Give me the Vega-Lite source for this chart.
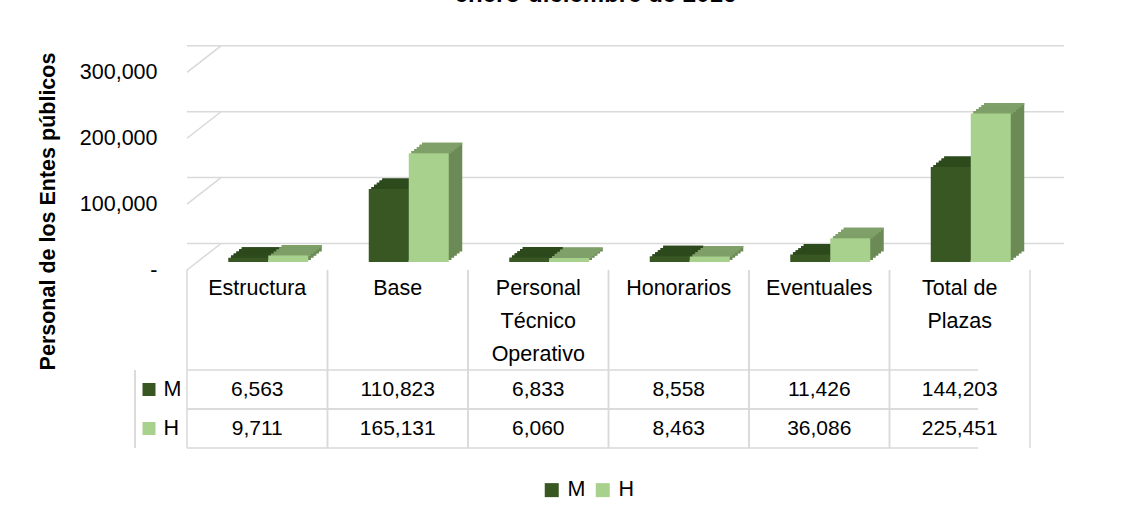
{
  "$schema": "https://vega.github.io/schema/vega-lite/v6.json",
  "padding": {"left": 37, "top": -17, "right": 10, "bottom": 0},
  "background": "white",
  "bounds": "flush",
  "spacing": 0,
  "title": {"text": "enero-diciembre de 2016", "fontSize": 24, "font": "Liberation Sans", "fontWeight": "bold", "anchor": "middle", "frame": "group", "baseline": "alphabetic", "offset": 19, "dx": -13, "color": "#000000"},
  "datasets": {
    "bars": [
      {"cat": "Estructura", "serie": "M", "valor": 6563},
      {"cat": "Base", "serie": "M", "valor": 110823},
      {"cat": "Personal Técnico Operativo", "serie": "M", "valor": 6833},
      {"cat": "Honorarios", "serie": "M", "valor": 8558},
      {"cat": "Eventuales", "serie": "M", "valor": 11426},
      {"cat": "Total de Plazas", "serie": "M", "valor": 144203},
      {"cat": "Estructura", "serie": "H", "valor": 9711},
      {"cat": "Base", "serie": "H", "valor": 165131},
      {"cat": "Personal Técnico Operativo", "serie": "H", "valor": 6060},
      {"cat": "Honorarios", "serie": "H", "valor": 8463},
      {"cat": "Eventuales", "serie": "H", "valor": 36086},
      {"cat": "Total de Plazas", "serie": "H", "valor": 225451}
    ],
    "grid": [
      {"v": 0, "cat": "Estructura"},
      {"v": 100000, "cat": "Estructura"},
      {"v": 200000, "cat": "Estructura"},
      {"v": 300000, "cat": "Estructura"}
    ],
    "cats": [
      {"cat": "Estructura"}, {"cat": "Base"}, {"cat": "Personal Técnico Operativo"},
      {"cat": "Honorarios"}, {"cat": "Eventuales"}, {"cat": "Total de Plazas"}
    ],
    "series": [
      {"serie": "M", "cat": "Estructura"},
      {"serie": "H", "cat": "Estructura"}
    ]
  },
  "vconcat": [
    {
      "width": 843,
      "height": 224,
      "layer": [
        {
          "data": {"name": "grid"},
          "mark": {"type": "rule", "color": "#D9D9D9", "strokeWidth": 1.5, "xOffset": 34, "x2Offset": 34, "yOffset": -26.5},
          "encoding": {
            "y": {
              "field": "v", "type": "quantitative",
              "scale": {"domain": [0, 340000], "nice": false},
              "axis": {
                "values": [0, 100000, 200000, 300000],
                "labelExpr": "datum.value == 0 ? '-' : format(datum.value, ',')",
                "domain": false, "ticks": false, "grid": false,
                "labelPadding": 30, "labelFontSize": 21.5, "labelFont": "Liberation Sans", "labelColor": "#000000",
                "title": "Personal de los Entes públicos",
                "titleFont": "Liberation Sans", "titleFontSize": 21.5, "titleFontWeight": "bold", "titleColor": "#000000",
                "titleX": -139, "titleY": 165, "titleAngle": 270, "titleAlign": "center", "titleBaseline": "middle"
              }
            }
          }
        },
        {
          "data": {"name": "grid"},
          "mark": {"type": "rule", "color": "#D9D9D9", "strokeWidth": 1.5, "x2Offset": 34, "y2Offset": -26.5},
          "encoding": {
            "x": {
              "field": "cat", "type": "nominal", "bandPosition": 0,
              "scale": {"domain": ["Estructura", "Base", "Personal Técnico Operativo", "Honorarios", "Eventuales", "Total de Plazas"], "paddingInner": 0, "paddingOuter": 0},
              "axis": {
                "orient": "bottom", "title": null, "domain": false, "ticks": false, "labelAngle": 0,
                "labelExpr": "datum.value == 'Personal Técnico Operativo' ? ['Personal', 'Técnico', 'Operativo'] : datum.value == 'Total de Plazas' ? ['Total de', 'Plazas'] : datum.label",
                "labelFontSize": 21.5, "labelFont": "Liberation Sans", "labelColor": "#000000",
                "labelLineHeight": 33, "labelBaseline": "top", "labelPadding": 7, "labelLimit": 0
              }
            },
            "x2": {"field": "cat", "bandPosition": 0},
            "y": {"field": "v", "type": "quantitative"},
            "y2": {"field": "v"}
          }
        },
        {"data": {"name": "bars"}, "transform": [{"filter": "datum.serie === 'M'"}], "mark": {"type": "bar", "width": 40, "color": "#26401A", "xOffset": -6.3, "yOffset": -10.1, "y2Offset": -10.1}, "encoding": {"x": {"field": "cat", "type": "nominal"}, "y": {"field": "valor", "type": "quantitative"}, "y2": {"datum": 0}}},
        {"data": {"name": "bars"}, "transform": [{"filter": "datum.serie === 'M'"}], "mark": {"type": "bar", "width": 40, "color": "#26401A", "xOffset": -3.6, "yOffset": -12.2, "y2Offset": -12.2}, "encoding": {"x": {"field": "cat", "type": "nominal"}, "y": {"field": "valor", "type": "quantitative"}, "y2": {"datum": 0}}},
        {"data": {"name": "bars"}, "transform": [{"filter": "datum.serie === 'M'"}], "mark": {"type": "bar", "width": 40, "color": "#26401A", "xOffset": -0.9, "yOffset": -14.3, "y2Offset": -14.3}, "encoding": {"x": {"field": "cat", "type": "nominal"}, "y": {"field": "valor", "type": "quantitative"}, "y2": {"datum": 0}}},
        {"data": {"name": "bars"}, "transform": [{"filter": "datum.serie === 'M'"}], "mark": {"type": "bar", "width": 40, "color": "#26401A", "xOffset": 1.8, "yOffset": -16.4, "y2Offset": -16.4}, "encoding": {"x": {"field": "cat", "type": "nominal"}, "y": {"field": "valor", "type": "quantitative"}, "y2": {"datum": 0}}},
        {"data": {"name": "bars"}, "transform": [{"filter": "datum.serie === 'M'"}], "mark": {"type": "bar", "width": 40, "color": "#26401A", "xOffset": 4.5, "yOffset": -18.5, "y2Offset": -18.5}, "encoding": {"x": {"field": "cat", "type": "nominal"}, "y": {"field": "valor", "type": "quantitative"}, "y2": {"datum": 0}}},
        {"data": {"name": "bars"}, "transform": [{"filter": "datum.serie === 'H'"}], "mark": {"type": "bar", "width": 40, "color": "#6B8A55", "xOffset": 33.7, "yOffset": -10.1, "y2Offset": -10.1}, "encoding": {"x": {"field": "cat", "type": "nominal"}, "y": {"field": "valor", "type": "quantitative"}, "y2": {"datum": 0}}},
        {"data": {"name": "bars"}, "transform": [{"filter": "datum.serie === 'H'"}], "mark": {"type": "bar", "width": 40, "color": "#6B8A55", "xOffset": 36.4, "yOffset": -12.2, "y2Offset": -12.2}, "encoding": {"x": {"field": "cat", "type": "nominal"}, "y": {"field": "valor", "type": "quantitative"}, "y2": {"datum": 0}}},
        {"data": {"name": "bars"}, "transform": [{"filter": "datum.serie === 'H'"}], "mark": {"type": "bar", "width": 40, "color": "#6B8A55", "xOffset": 39.1, "yOffset": -14.3, "y2Offset": -14.3}, "encoding": {"x": {"field": "cat", "type": "nominal"}, "y": {"field": "valor", "type": "quantitative"}, "y2": {"datum": 0}}},
        {"data": {"name": "bars"}, "transform": [{"filter": "datum.serie === 'H'"}], "mark": {"type": "bar", "width": 40, "color": "#6B8A55", "xOffset": 41.8, "yOffset": -16.4, "y2Offset": -16.4}, "encoding": {"x": {"field": "cat", "type": "nominal"}, "y": {"field": "valor", "type": "quantitative"}, "y2": {"datum": 0}}},
        {"data": {"name": "bars"}, "transform": [{"filter": "datum.serie === 'H'"}], "mark": {"type": "bar", "width": 40, "color": "#6B8A55", "xOffset": 44.5, "yOffset": -18.5, "y2Offset": -18.5}, "encoding": {"x": {"field": "cat", "type": "nominal"}, "y": {"field": "valor", "type": "quantitative"}, "y2": {"datum": 0}}},
        {"data": {"name": "bars"}, "transform": [{"filter": "datum.serie === 'M'"}], "mark": {"type": "bar", "width": 40, "color": "#2D4A1C", "xOffset": -6.3, "yOffset": -10.1, "y2Offset": -7.7}, "encoding": {"x": {"field": "cat", "type": "nominal"}, "y": {"field": "valor", "type": "quantitative"}, "y2": {"field": "valor"}}},
        {"data": {"name": "bars"}, "transform": [{"filter": "datum.serie === 'M'"}], "mark": {"type": "bar", "width": 40, "color": "#2D4A1C", "xOffset": -3.6, "yOffset": -12.2, "y2Offset": -9.8}, "encoding": {"x": {"field": "cat", "type": "nominal"}, "y": {"field": "valor", "type": "quantitative"}, "y2": {"field": "valor"}}},
        {"data": {"name": "bars"}, "transform": [{"filter": "datum.serie === 'M'"}], "mark": {"type": "bar", "width": 40, "color": "#2D4A1C", "xOffset": -0.9, "yOffset": -14.3, "y2Offset": -11.9}, "encoding": {"x": {"field": "cat", "type": "nominal"}, "y": {"field": "valor", "type": "quantitative"}, "y2": {"field": "valor"}}},
        {"data": {"name": "bars"}, "transform": [{"filter": "datum.serie === 'M'"}], "mark": {"type": "bar", "width": 40, "color": "#2D4A1C", "xOffset": 1.8, "yOffset": -16.4, "y2Offset": -14.0}, "encoding": {"x": {"field": "cat", "type": "nominal"}, "y": {"field": "valor", "type": "quantitative"}, "y2": {"field": "valor"}}},
        {"data": {"name": "bars"}, "transform": [{"filter": "datum.serie === 'M'"}], "mark": {"type": "bar", "width": 40, "color": "#2D4A1C", "xOffset": 4.5, "yOffset": -18.5, "y2Offset": -16.1}, "encoding": {"x": {"field": "cat", "type": "nominal"}, "y": {"field": "valor", "type": "quantitative"}, "y2": {"field": "valor"}}},
        {"data": {"name": "bars"}, "transform": [{"filter": "datum.serie === 'H'"}], "mark": {"type": "bar", "width": 40, "color": "#7FA069", "xOffset": 33.7, "yOffset": -10.1, "y2Offset": -7.7}, "encoding": {"x": {"field": "cat", "type": "nominal"}, "y": {"field": "valor", "type": "quantitative"}, "y2": {"field": "valor"}}},
        {"data": {"name": "bars"}, "transform": [{"filter": "datum.serie === 'H'"}], "mark": {"type": "bar", "width": 40, "color": "#7FA069", "xOffset": 36.4, "yOffset": -12.2, "y2Offset": -9.8}, "encoding": {"x": {"field": "cat", "type": "nominal"}, "y": {"field": "valor", "type": "quantitative"}, "y2": {"field": "valor"}}},
        {"data": {"name": "bars"}, "transform": [{"filter": "datum.serie === 'H'"}], "mark": {"type": "bar", "width": 40, "color": "#7FA069", "xOffset": 39.1, "yOffset": -14.3, "y2Offset": -11.9}, "encoding": {"x": {"field": "cat", "type": "nominal"}, "y": {"field": "valor", "type": "quantitative"}, "y2": {"field": "valor"}}},
        {"data": {"name": "bars"}, "transform": [{"filter": "datum.serie === 'H'"}], "mark": {"type": "bar", "width": 40, "color": "#7FA069", "xOffset": 41.8, "yOffset": -16.4, "y2Offset": -14.0}, "encoding": {"x": {"field": "cat", "type": "nominal"}, "y": {"field": "valor", "type": "quantitative"}, "y2": {"field": "valor"}}},
        {"data": {"name": "bars"}, "transform": [{"filter": "datum.serie === 'H'"}], "mark": {"type": "bar", "width": 40, "color": "#7FA069", "xOffset": 44.5, "yOffset": -18.5, "y2Offset": -16.1}, "encoding": {"x": {"field": "cat", "type": "nominal"}, "y": {"field": "valor", "type": "quantitative"}, "y2": {"field": "valor"}}},
        {"data": {"name": "bars"}, "transform": [{"filter": "datum.serie === 'M'"}], "mark": {"type": "bar", "width": 40, "color": "#385723", "xOffset": -9, "yOffset": -8, "y2Offset": -8}, "encoding": {"x": {"field": "cat", "type": "nominal"}, "y": {"field": "valor", "type": "quantitative"}, "y2": {"datum": 0}}},
        {"data": {"name": "bars"}, "transform": [{"filter": "datum.serie === 'H'"}], "mark": {"type": "bar", "width": 40, "color": "#A9D18E", "xOffset": 31, "yOffset": -8, "y2Offset": -8}, "encoding": {"x": {"field": "cat", "type": "nominal"}, "y": {"field": "valor", "type": "quantitative"}, "y2": {"datum": 0}}}
      ]
    },
    {
      "width": 843,
      "height": 100,
      "data": {"name": "cats"},
      "layer": [
        {"mark": {"type": "rule", "color": "#D9D9D9", "strokeWidth": 1.5},
          "encoding": {"x": {"field": "cat", "type": "nominal", "bandPosition": 0, "scale": {"domain": ["Estructura", "Base", "Personal Técnico Operativo", "Honorarios", "Eventuales", "Total de Plazas"], "paddingInner": 0, "paddingOuter": 0}, "axis": null}}},
        {"mark": {"type": "rule", "color": "#D9D9D9", "strokeWidth": 1.5},
          "encoding": {"x": {"field": "cat", "type": "nominal", "bandPosition": 1, "axis": null}}}
      ]
    },
    {
      "width": 843,
      "height": 78,
      "layer": [
        {"data": {"name": "cats"}, "mark": {"type": "rule", "color": "#D9D9D9", "strokeWidth": 1.5},
          "encoding": {"x": {"field": "cat", "type": "nominal", "bandPosition": 0, "scale": {"domain": ["Estructura", "Base", "Personal Técnico Operativo", "Honorarios", "Eventuales", "Total de Plazas"], "paddingInner": 0, "paddingOuter": 0}, "axis": null}}},
        {"data": {"name": "cats"}, "mark": {"type": "rule", "color": "#D9D9D9", "strokeWidth": 1.5},
          "encoding": {"x": {"field": "cat", "type": "nominal", "bandPosition": 1, "axis": null}}},
        {"data": {"name": "series"}, "mark": {"type": "rule", "color": "#D9D9D9", "strokeWidth": 1.5, "xOffset": -52},
          "encoding": {"x": {"field": "cat", "type": "nominal", "bandPosition": 0, "axis": null}}},
        {"data": {"name": "series"}, "mark": {"type": "rule", "color": "#D9D9D9", "strokeWidth": 1.5, "xOffset": -52},
          "encoding": {"y": {"field": "serie", "type": "nominal", "bandPosition": 0,
            "scale": {"domain": ["M", "H"], "paddingInner": 0, "paddingOuter": 0},
            "axis": {"title": null, "domain": false, "ticks": false, "grid": false, "labelAlign": "left", "labelPadding": 24, "labelFontSize": 21.5, "labelFont": "Liberation Sans", "labelColor": "#000000"}}}},
        {"data": {"name": "series"}, "mark": {"type": "rule", "color": "#D9D9D9", "strokeWidth": 1.5, "xOffset": -52},
          "encoding": {"y": {"field": "serie", "type": "nominal", "bandPosition": 1}}},
        {"data": {"name": "series"}, "mark": {"type": "point", "shape": "square", "filled": true, "size": 169, "opacity": 1, "xOffset": -38},
          "encoding": {
            "x": {"field": "cat", "type": "nominal", "bandPosition": 0},
            "y": {"field": "serie", "type": "nominal"},
            "color": {"field": "serie", "type": "nominal", "scale": {"domain": ["M", "H"], "range": ["#385723", "#A9D18E"]},
              "legend": {"orient": "none", "legendX": 354, "legendY": 433, "direction": "horizontal", "title": null, "symbolType": "square", "symbolSize": 196, "symbolStrokeWidth": 0, "labelFontSize": 21.5, "labelFont": "Liberation Sans", "labelColor": "#000000", "labelOffset": 5, "columnPadding": 6}}
          }},
        {"data": {"name": "bars"}, "mark": {"type": "text", "fontSize": 21, "font": "Liberation Sans", "color": "#000000"},
          "encoding": {
            "x": {"field": "cat", "type": "nominal"},
            "y": {"field": "serie", "type": "nominal"},
            "text": {"field": "valor", "type": "quantitative", "format": ","}
          }}
      ]
    }
  ],
  "config": {"view": {"stroke": null}}
}
